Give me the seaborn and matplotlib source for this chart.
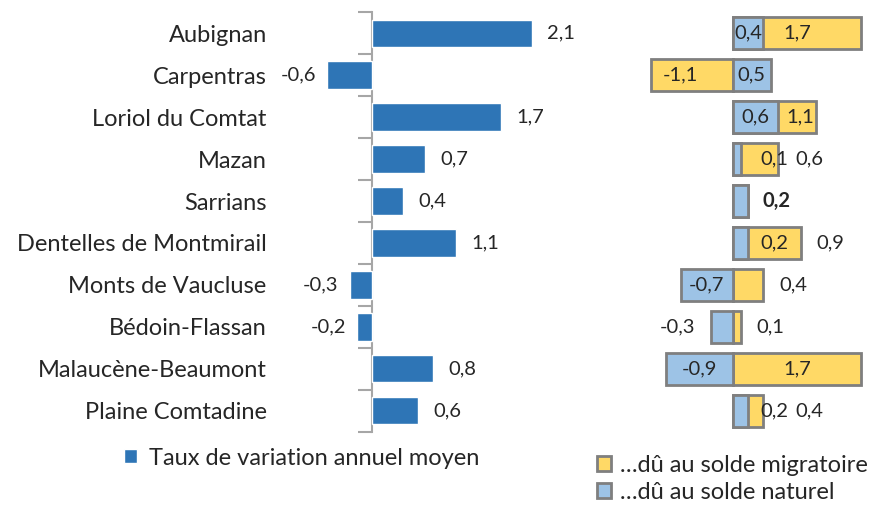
import numpy as np
import pandas as pd
import seaborn as sns
import matplotlib.pyplot as plt
from matplotlib.patches import Patch

# données : taux de variation annuel moyen et ses composantes
communes = ['Aubignan', 'Carpentras', 'Loriol du Comtat', 'Mazan', 'Sarrians',
            'Dentelles de Montmirail', 'Monts de Vaucluse', 'Bédoin-Flassan',
            'Malaucène-Beaumont', 'Plaine Comtadine']
taux_total = [2.1, -0.6, 1.7, 0.7, 0.4, 1.1, -0.3, -0.2, 0.8, 0.6]
solde_naturel = [0.4, 0.5, 0.6, 0.1, 0.2, 0.2, -0.7, -0.3, -0.9, 0.2]
solde_migratoire = [1.7, -1.1, 1.1, 0.6, 0.2, 0.9, 0.4, 0.1, 1.7, 0.4]

df = pd.DataFrame({'commune': communes, 'total': taux_total,
                   'naturel': solde_naturel, 'migratoire': solde_migratoire})

BLEU = '#2e75b6'
BLEU_CLAIR = '#9dc3e6'
JAUNE = '#ffd966'
GRIS = '#7f7f7f'

sns.set_style('white')
plt.rcParams['font.family'] = ['Lato', 'DejaVu Sans']

FS_CAT = 17
FS_VAL = 14.5
FS_LEG = 17


def fmt(v):
    return f'{v:.1f}'.replace('.', ',')


fig = plt.figure(figsize=(8.84, 5.08), dpi=100)

# --- panneau gauche ---
ax1 = fig.add_axes([0.308, 0.150, 0.362, 0.826])
sns.barplot(data=df, x='total', y='commune', color=BLEU, width=0.65,
            saturation=1, ax=ax1)
ax1.set_xlim(-1.32, 2.9)
ax1.set_ylim(9.5, -0.5)
ax1.set_xlabel('')
ax1.set_ylabel('')
ax1.set_xticks([])
for s in ax1.spines.values():
    s.set_visible(False)
ax1.tick_params(axis='y', length=0, pad=4, labelsize=FS_CAT)

# axe vertical à zéro avec graduations entre catégories
frac0 = (0 - ax1.get_xlim()[0]) / (ax1.get_xlim()[1] - ax1.get_xlim()[0])
sec = ax1.secondary_yaxis(frac0)
sec.set_yticks(np.arange(-0.5, len(communes), 1.0))
sec.set_yticklabels([])
sec.tick_params(axis='y', length=10, width=1.5, color='#a6a6a6')
sec.spines['left'].set_color('#a6a6a6')
sec.spines['left'].set_linewidth(1.5)

for i, v in enumerate(taux_total):
    if v >= 0:
        ax1.annotate(fmt(v), (v, i), xytext=(11, 0), textcoords='offset points',
                     ha='left', va='center', fontsize=FS_VAL)
    else:
        ax1.annotate(fmt(v), (v, i), xytext=(-8, 0), textcoords='offset points',
                     ha='right', va='center', fontsize=FS_VAL)

# --- panneau droit ---
ax2 = fig.add_axes([0.724, 0.150, 0.276, 0.826])
sns.barplot(data=df, x='migratoire', y='commune', color=JAUNE, width=0.75,
            saturation=1, edgecolor=GRIS, linewidth=2, ax=ax2)
sns.barplot(data=df, x='naturel', y='commune', color=BLEU_CLAIR, width=0.75,
            saturation=1, edgecolor=GRIS, linewidth=2, ax=ax2)
ax2.set_xlim(-1.24, 2.01)
ax2.set_ylim(9.5, -0.5)
ax2.set_xlabel('')
ax2.set_ylabel('')
ax2.set_xticks([])
ax2.set_yticks([])
for s in ax2.spines.values():
    s.set_visible(False)

for i, (n, m) in enumerate(zip(solde_naturel, solde_migratoire)):
    if n == m and abs(n) < 0.35:
        # les deux étiquettes se superposent : une seule, en gras
        ax2.text(m + 0.38, i, fmt(m), ha='center', va='center',
                 fontsize=FS_VAL, fontweight='bold')
        continue
    # étiquette solde naturel
    if abs(n) >= 0.35:
        xn, ha_n = n / 2, 'center'
    elif n < 0:
        xn, ha_n = n - 0.2, 'right'
    else:
        xn, ha_n = 0.55, 'center'
    ax2.text(xn, i, fmt(n), ha=ha_n, va='center', fontsize=FS_VAL)
    # étiquette solde migratoire
    if m < 0:
        xm = m / 2 - 0.15
    elif m >= 1.0:
        xm = max(m / 2, n + 0.29)
    else:
        xm = m + 0.4
        if ha_n == 'center' and abs(n) < 0.35 and abs(xm - xn) < 0.45:
            xm = xn + 0.47
    ax2.text(xm, i, fmt(m), ha='center', va='center', fontsize=FS_VAL)

# --- légendes ---
fig.legend(handles=[Patch(facecolor=BLEU)], labels=['Taux de variation annuel moyen'],
           loc='center left', bbox_to_anchor=(0.140, 0.098), frameon=False,
           fontsize=FS_LEG, handlelength=0.55, handleheight=0.55, handletextpad=0.5,
           borderpad=0, borderaxespad=0)
fig.legend(handles=[Patch(facecolor=JAUNE, edgecolor=GRIS, linewidth=2),
                    Patch(facecolor=BLEU_CLAIR, edgecolor=GRIS, linewidth=2)],
           labels=['…dû au solde migratoire', '…dû au solde naturel'],
           loc='center left', bbox_to_anchor=(0.675, 0.057), frameon=False,
           fontsize=FS_LEG, handlelength=0.6, handleheight=0.6, handletextpad=0.4,
           labelspacing=0.25, borderpad=0, borderaxespad=0)

fig.savefig('out.png', dpi=100)
